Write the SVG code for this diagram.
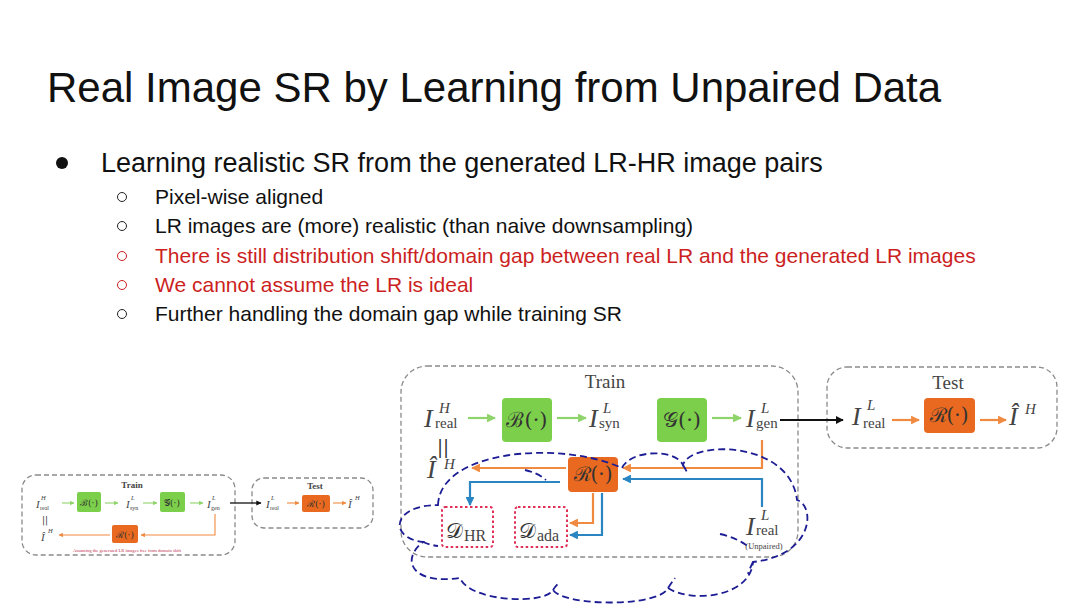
<svg xmlns="http://www.w3.org/2000/svg" width="1080" height="608" viewBox="0 0 1080 608">
<style>
.t{font-family:"Liberation Sans",Arial,sans-serif;fill:#111}
.red{fill:#cc1f1f}
.m{font-family:"Liberation Serif","DejaVu Serif",serif;font-style:italic;fill:#444}
.r{font-family:"Liberation Serif","DejaVu Serif",serif;fill:#444}
.cal{font-family:"DejaVu Serif","Liberation Serif",serif;fill:#333}
.gbox{fill:#7ccf4a}
.obox{fill:#e8691f}
.dash{fill:none;stroke:#8a8a8a;stroke-width:1.3;stroke-dasharray:5 3}
.ga{stroke:#8fd46a;stroke-width:2.2;fill:none}
.oa{stroke:#f08a40;stroke-width:2.2;fill:none}
.ba{stroke:#2a86c3;stroke-width:2.2;fill:none}
.ka{stroke:#111;stroke-width:2;fill:none}
.dbox{fill:none;stroke:#e03058;stroke-width:2;stroke-dasharray:2.5 2.5}
.cloud{fill:none;stroke:#1c1c94;stroke-width:1.8;stroke-dasharray:7 4}
.hb{fill:none;stroke:#222;stroke-width:1}
</style>
<defs>
<marker id="hg" viewBox="0 0 10 10" refX="9" refY="5" markerWidth="4" markerHeight="4" orient="auto"><path d="M0,0 L10,5 L0,10 z" fill="#8fd46a"/></marker>
<marker id="ho" viewBox="0 0 10 10" refX="9" refY="5" markerWidth="4" markerHeight="4" orient="auto"><path d="M0,0 L10,5 L0,10 z" fill="#f08a40"/></marker>
<marker id="hb" viewBox="0 0 10 10" refX="9" refY="5" markerWidth="4" markerHeight="4" orient="auto"><path d="M0,0 L10,5 L0,10 z" fill="#2a86c3"/></marker>
<marker id="hk" viewBox="0 0 10 10" refX="9" refY="5" markerWidth="4" markerHeight="4" orient="auto"><path d="M0,0 L10,5 L0,10 z" fill="#111"/></marker>
</defs>
<rect width="1080" height="608" fill="#fff"/>

<g id="title"><text class="t" x="47" y="102" font-size="42">Real Image SR by Learning from Unpaired Data</text></g>
<g id="bullets">
<circle cx="62" cy="163" r="6" fill="#111"/>
<text class="t" x="101" y="172" font-size="27">Learning realistic SR from the generated LR-HR image pairs</text>
<circle class="hb" cx="122" cy="197" r="4.5"/><text class="t" x="155" y="204" font-size="21">Pixel-wise aligned</text>
<circle class="hb" cx="122" cy="226" r="4.5"/><text class="t" x="155" y="233" font-size="21">LR images are (more) realistic (than naive downsampling)</text>
<circle class="hb" cx="122" cy="256" r="4.5" style="stroke:#cc1f1f"/><text class="t red" x="155" y="263" font-size="21">There is still distribution shift/domain gap between real LR and the generated LR images</text>
<circle class="hb" cx="122" cy="285" r="4.5" style="stroke:#cc1f1f"/><text class="t red" x="155" y="292" font-size="21">We cannot assume the LR is ideal</text>
<circle class="hb" cx="122" cy="314" r="4.5"/><text class="t" x="155" y="321" font-size="21">Further handling the domain gap while training SR</text>
</g>

<!-- Small diagram -->
<g id="small-train">
<rect class="dash" x="22" y="475" width="213" height="80" rx="14" stroke-width="0.9"/>
<text class="r" x="132" y="488" font-size="9" text-anchor="middle" font-weight="bold" fill="#333">Train</text>
<text class="m" x="36" y="508" font-size="11">I</text><text class="m" x="41" y="500" font-size="6.5">H</text><text class="r" x="40" y="510" font-size="6">real</text>
<rect class="gbox" x="77" y="492" width="24" height="20" rx="2"/>
<text class="cal" x="89" y="506" font-size="9" text-anchor="middle">ℬ(·)</text>
<text class="m" x="126" y="508" font-size="11">I</text><text class="m" x="131" y="500" font-size="6.5">L</text><text class="r" x="130" y="510" font-size="6">syn</text>
<rect class="gbox" x="160" y="492" width="25" height="20" rx="2"/>
<text class="cal" x="172" y="506" font-size="9" text-anchor="middle">𝒢(·)</text>
<text class="m" x="207" y="508" font-size="11">I</text><text class="m" x="212" y="500" font-size="6.5">L</text><text class="r" x="211" y="510" font-size="6">gen</text>
<text x="42" y="523" font-size="9" font-family="DejaVu Serif,serif" fill="#333">||</text>
<text class="m" x="41" y="541" font-size="11">Î</text><text class="m" x="48" y="533" font-size="6.5">H</text>
<rect class="obox" x="112" y="525" width="26" height="18" rx="2"/>
<text class="cal" x="125" y="538" font-size="9" text-anchor="middle">ℛ(·)</text>
<text x="127" y="552" font-size="4.6" fill="#c03050" text-anchor="middle" font-family="Liberation Serif,serif">Assuming the generated LR images free from domain shift</text>
</g>
<g id="small-test">
<rect class="dash" x="252" y="478" width="121" height="50" rx="12" stroke-width="0.9"/>
<text class="r" x="315" y="489" font-size="9" text-anchor="middle" font-weight="bold" fill="#333">Test</text>
<text class="m" x="266" y="508" font-size="11">I</text><text class="m" x="271" y="500" font-size="6.5">L</text><text class="r" x="270" y="510" font-size="6">real</text>
<rect class="obox" x="302" y="495" width="28" height="17" rx="2"/>
<text class="cal" x="316" y="507" font-size="9" text-anchor="middle">ℛ(·)</text>
<text class="m" x="348" y="508" font-size="11">Î</text><text class="m" x="355" y="500" font-size="6.5">H</text>
</g>
<g id="small-connectors">
<line class="ga" x1="62" y1="503" x2="74" y2="503" style="stroke-width:1.1" marker-end="url(#hg)"/>
<line class="ga" x1="105" y1="503" x2="118" y2="503" style="stroke-width:1.1" marker-end="url(#hg)"/>
<line class="ga" x1="143" y1="503" x2="157" y2="503" style="stroke-width:1.1" marker-end="url(#hg)"/>
<line class="ga" x1="190" y1="503" x2="203" y2="503" style="stroke-width:1.1" marker-end="url(#hg)"/>
<line class="ka" x1="230" y1="503" x2="261" y2="503" style="stroke-width:1.3" marker-end="url(#hk)"/>
<polyline class="oa" points="215,514 215,535 141,535" style="stroke-width:1.1" marker-end="url(#ho)"/>
<line class="oa" x1="110" y1="535" x2="59" y2="535" style="stroke-width:1.1" marker-end="url(#ho)"/>
<line class="oa" x1="287" y1="503" x2="299" y2="503" style="stroke-width:1.1" marker-end="url(#ho)"/>
<line class="oa" x1="333" y1="503" x2="346" y2="503" style="stroke-width:1.1" marker-end="url(#ho)"/>
</g>

<!-- Main diagram -->
<g id="train-box">
<rect class="dash" x="401" y="366" width="397" height="191" rx="26"/>
<text class="r" x="605" y="388" font-size="19" text-anchor="middle" fill="#222">Train</text>
</g>
<g id="test-box">
<rect class="dash" x="827" y="367" width="230" height="81" rx="20"/>
<text class="r" x="948" y="389" font-size="19" text-anchor="middle" fill="#222">Test</text>
</g>
<g id="I-real-H">
<text class="m" x="424" y="427" font-size="26">I</text><text class="m" x="439" y="413" font-size="15">H</text><text class="r" x="435" y="428" font-size="15">real</text>
</g>
<g id="B">
<rect class="gbox" x="502" y="398" width="50" height="44" rx="4"/>
<text class="cal" x="527" y="427" font-size="21" text-anchor="middle">ℬ(·)</text>
</g>
<g id="I-syn">
<text class="m" x="589" y="427" font-size="26">I</text><text class="m" x="603" y="413" font-size="15">L</text><text class="r" x="599" y="428" font-size="15">syn</text>
</g>
<g id="G">
<rect class="gbox" x="657" y="398" width="50" height="44" rx="4"/>
<text class="cal" x="682" y="427" font-size="21" text-anchor="middle">𝒢(·)</text>
</g>
<g id="I-gen">
<text class="m" x="746" y="427" font-size="26">I</text><text class="m" x="761" y="413" font-size="15">L</text><text class="r" x="756" y="428" font-size="15">gen</text>
</g>
<g id="eq"><text x="437" y="453" font-size="18" font-family="DejaVu Serif,serif" fill="#333">||</text></g>
<g id="I-hat">
<text class="m" x="427" y="478" font-size="26">Î</text><text class="m" x="444" y="469" font-size="15">H</text>
</g>
<g id="R">
<rect class="obox" x="568" y="457" width="50" height="35" rx="4"/>
<text class="cal" x="593" y="481" font-size="20" text-anchor="middle">ℛ(·)</text>
</g>
<g id="D-HR">
<rect class="dbox" x="442" y="507" width="51" height="40" rx="3"/>
<text class="cal" x="446" y="538" font-size="21">𝒟</text><text class="r" x="464" y="541" font-size="16">HR</text>
</g>
<g id="D-ada">
<rect class="dbox" x="515" y="507" width="52" height="40" rx="3"/>
<text class="cal" x="519" y="538" font-size="21">𝒟</text><text class="r" x="537" y="541" font-size="16">ada</text>
</g>
<g id="I-real-L">
<text class="m" x="746" y="535" font-size="26">I</text><text class="m" x="761" y="520" font-size="15">L</text><text class="r" x="756" y="535" font-size="15">real</text>
<text class="r" x="764" y="549" font-size="8.5" text-anchor="middle" fill="#d04060">(Unpaired)</text>
</g>
<g id="test-I-real">
<text class="m" x="852" y="425" font-size="26">I</text><text class="m" x="867" y="410" font-size="15">L</text><text class="r" x="863" y="428" font-size="15">real</text>
</g>
<g id="test-R">
<rect class="obox" x="924" y="398" width="51" height="35" rx="4"/>
<text class="cal" x="949" y="422" font-size="20" text-anchor="middle">ℛ(·)</text>
</g>
<g id="test-I-hat">
<text class="m" x="1009" y="425" font-size="26">Î</text><text class="m" x="1025" y="414" font-size="15">H</text>
</g>

<g id="connectors">
<line class="ga" x1="468" y1="418" x2="495" y2="418" marker-end="url(#hg)"/>
<line class="ga" x1="557" y1="418" x2="586" y2="418" marker-end="url(#hg)"/>
<line class="ga" x1="712" y1="418" x2="741" y2="418" marker-end="url(#hg)"/>
<line class="ka" x1="780" y1="420" x2="843" y2="420" marker-end="url(#hk)"/>
<line class="oa" x1="892" y1="420" x2="919" y2="420" marker-end="url(#ho)"/>
<line class="oa" x1="980" y1="420" x2="1006" y2="420" marker-end="url(#ho)"/>
<polyline class="oa" points="762,440 762,468 623,468" marker-end="url(#ho)"/>
<line class="oa" x1="566" y1="468" x2="472" y2="468" marker-end="url(#ho)"/>
<polyline class="ba" points="762,507 762,479 623,479" marker-end="url(#hb)"/>
<polyline class="ba" points="560,482 470,482 470,505" marker-end="url(#hb)"/>
<polyline class="oa" points="593,493 593,523 570,523" marker-end="url(#ho)"/>
<polyline class="ba" points="602,493 602,535 570,535" marker-end="url(#hb)"/>
</g>

<g id="cloud">
<path class="cloud" d="M438,505 C440,450 560,440 622,468 C630,450 675,448 683,465 C690,440 790,440 797,500 C815,505 815,555 753,562 C750,598 690,603 668,588 C660,607 565,607 553,590 C545,605 470,602 460,578 C412,585 400,560 423,542 C388,538 392,505 438,505 Z"/>
<path class="cloud" d="M525,470 Q538,473 546,480"/>
<path class="cloud" d="M720,534 Q738,538 750,548"/>
<path class="cloud" d="M683,465 Q686,470 688,474"/>
<path class="cloud" d="M753,562 Q750,568 748,574"/>
<path class="cloud" d="M668,588 Q672,582 675,578"/>
<path class="cloud" d="M553,590 Q556,585 560,582"/>
<path class="cloud" d="M423,542 Q430,545 438,546"/>
</g>
</svg>
